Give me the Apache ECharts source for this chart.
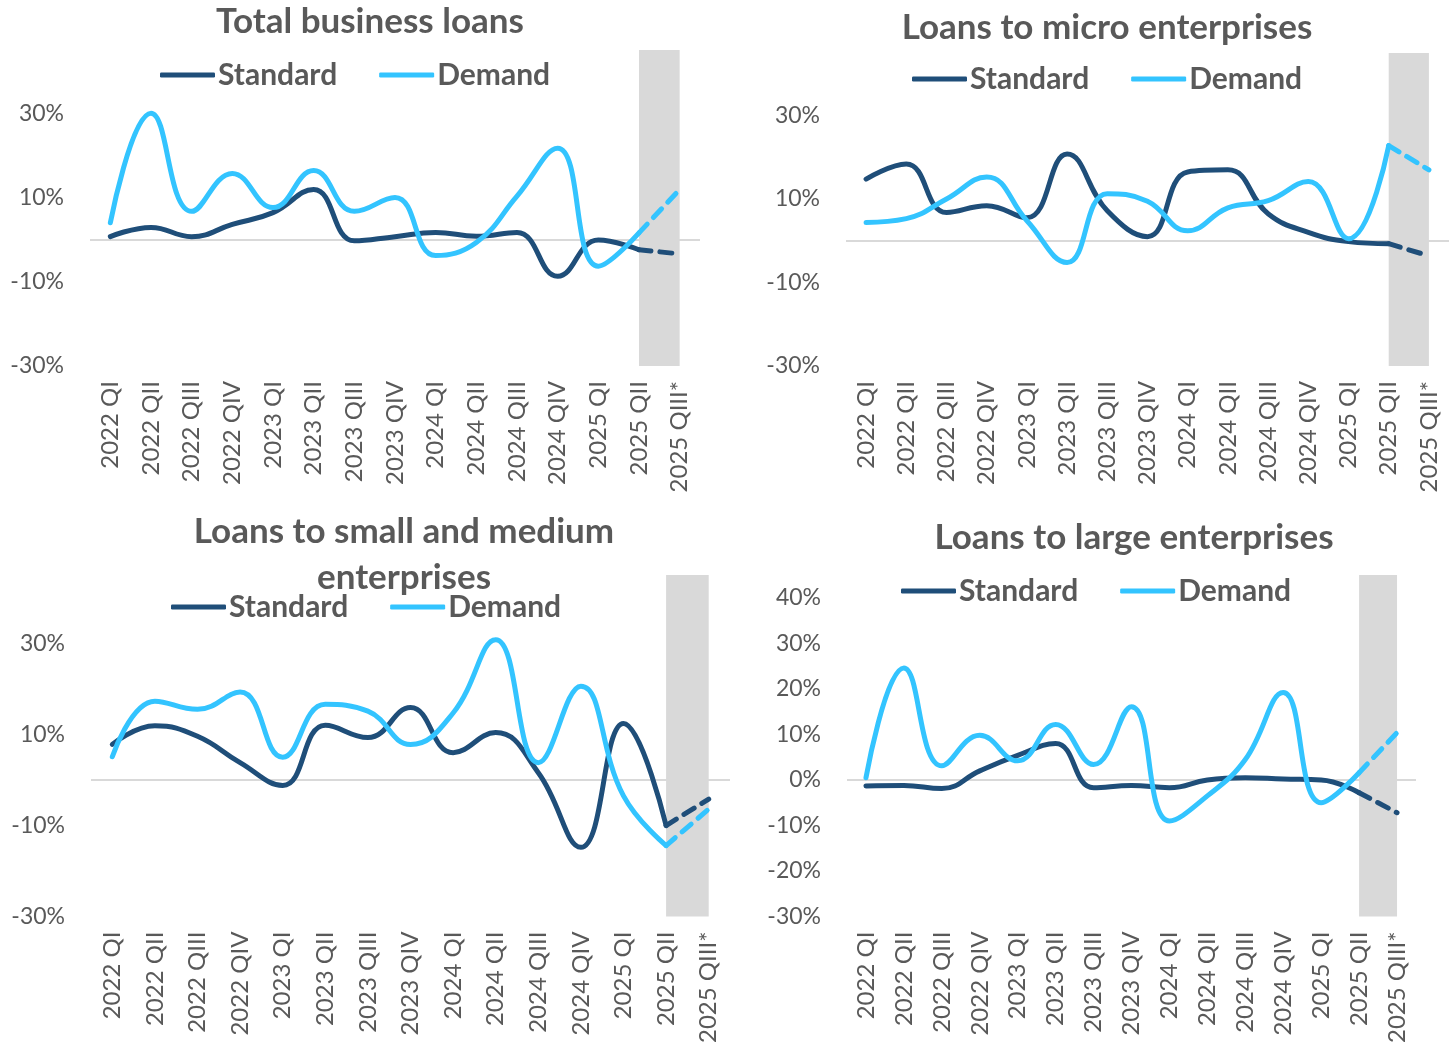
<!DOCTYPE html>
<html><head><meta charset="utf-8">
<script src="https://cdn.jsdelivr.net/npm/echarts@6/dist/echarts.min.js"></script>
<style>html,body{margin:0;padding:0;background:#fff}#c{width:1453px;height:1046px}</style>
</head><body><div id="c"></div>
<script>
// ---- data ----
const categories = ['2022 QI','2022 QII','2022 QIII','2022 QIV','2023 QI','2023 QII','2023 QIII','2023 QIV','2024 QI','2024 QII','2024 QIII','2024 QIV','2025 QI','2025 QII','2025 QIII*'];
const seriesNames = ['Standard','Demand'];
const titles = ['Total business loans','Loans to micro enterprises','Loans to small and medium\nenterprises','Loans to large enterprises'];

const totalStandard = [0.7, 2.9, 0.7, 3.6, 6.4, 11.9, -0.3, 0.7, 1.7, 0.8, 1.7, -8.7, -0.1, -2.4, -3.4];
const totalDemand   = [4.0, 30.0, 6.7, 15.7, 7.6, 16.4, 6.7, 10.0, -3.8, -0.7, 10.3, 21.7, -6.3, 1.6, 11.9];

const microStandard = [14.8, 18.4, 6.8, 8.4, 5.5, 20.8, 7.2, 1.0, 16.5, 17.0, 6.5, 2.0, -0.2, -0.7, -3.6];
const microDemand   = [4.4, 5.3, 10.0, 15.3, 4.8, -5.2, 11.3, 9.5, 2.4, 7.9, 9.6, 14.2, 0.5, 22.8, 17.0];

const smeStandard = [7.8, 11.9, 9.6, 3.8, -1.2, 12.0, 9.3, 15.9, 6.0, 10.4, 1.6, -14.8, 12.4, -10.0, -4.2];
const smeDemand   = [5.1, 17.3, 15.5, 19.3, 5.0, 16.6, 15.1, 7.8, 14.7, 30.8, 3.8, 20.6, -3.5, -14.4, -6.4];

const largeStandard = [-1.3, -1.2, -1.9, 2.0, 5.4, 8.0, -1.7, -1.2, -1.7, 0.0, 0.5, 0.2, 0.0, -2.8, -7.2];
const largeDemand   = [0.5, 24.6, 3.1, 9.8, 4.2, 12.2, 3.4, 16.1, -9.0, -3.5, 4.5, 19.2, -5.0, 1.6, 10.4];

const yMin = -30, yMax = 45;
const yIntervals = [20, 20, 20, 10];

// ---- styling / layout ----
const DARK = '#1f4e79', LIGHT = '#33c4ff', GREY_TXT = '#595959', BOX = '#d9d9d9';
const FONT = 'Lato, "Open Sans", sans-serif';
const panels = [
  {std: totalStandard, dem: totalDemand, grid:{left:90, top:50, width:610, height:316}, title:{x:370, y:-1}, legend:{x:160, y:60}},
  {std: microStandard, dem: microDemand, grid:{left:846, top:53, width:603, height:313}, title:{x:1107, y:5}, legend:{x:912, y:64}},
  {std: smeStandard, dem: smeDemand, grid:{left:91, top:575, width:639, height:342}, title:{x:404, y:509}, legend:{x:171, y:592}},
  {std: largeStandard, dem: largeDemand, grid:{left:847, top:575, width:569, height:342}, title:{x:1134, y:515}, legend:{x:901, y:576}}
];

const grid = [], xAxis = [], yAxis = [], title = [], legend = [], series = [];
const last = categories.length - 1;

panels.forEach((p, i) => {
  grid.push(Object.assign({containLabel:false}, p.grid));
  title.push({
    text: titles[i], left: p.title.x, top: p.title.y, textAlign: 'center', padding: 0,
    textStyle: {fontFamily: FONT, fontWeight: 'bold', fontSize: 35, color: GREY_TXT, lineHeight: 46}
  });
  legend.push({
    data: seriesNames, left: p.legend.x, top: p.legend.y, orient: 'horizontal', padding: 0,
    icon: 'roundRect', itemWidth: 55, itemHeight: 5, itemGap: 42,
    textStyle: {fontFamily: FONT, fontWeight: 'bold', fontSize: 30, color: GREY_TXT, padding: [0,0,0,-2]},
    selectedMode: false
  });
  xAxis.push({
    type: 'category', gridIndex: i, data: categories, boundaryGap: true,
    axisLine: {show: false}, axisTick: {show: false},
    axisLabel: {rotate: 90, margin: 15, fontFamily: FONT, fontSize: 24, color: GREY_TXT, interval: 0}
  });
  yAxis.push({
    type: 'value', gridIndex: i, min: yMin, max: yMax, interval: yIntervals[i],
    splitLine: {show: false}, axisLine: {show: false}, axisTick: {show: false},
    axisLabel: {showMaxLabel: false, margin: 26, formatter: '{value}%', fontFamily: FONT, fontSize: 23, color: GREY_TXT}
  });
  const solid = arr => arr.map((v, k) => (k < last ? v : null));
  const dashed = arr => arr.map((v, k) => (k >= last - 1 ? v : null));
  const base = {type: 'line', xAxisIndex: i, yAxisIndex: i, symbol: 'none', smooth: 0.45, z: 3};
  series.push(Object.assign({}, base, {
    name: 'Standard', data: solid(p.std),
    lineStyle: {color: DARK, width: 5, cap: 'round'}, itemStyle: {color: DARK},
    markArea: {silent: true, z: 1, itemStyle: {color: BOX}, data: [[{xAxis: categories[last - 1]}, {xAxis: categories[last]}]]},
    markLine: {silent: true, z: 1, symbol: ['none','none'], label: {show: false},
      lineStyle: {color: BOX, width: 2, type: 'solid'}, data: [{yAxis: 0}]}
  }));
  series.push(Object.assign({}, base, {
    name: 'Demand', data: solid(p.dem),
    lineStyle: {color: LIGHT, width: 5, cap: 'round'}, itemStyle: {color: LIGHT}
  }));
  series.push(Object.assign({}, base, {
    name: 'Standard forecast', data: dashed(p.std), smooth: false,
    lineStyle: {color: DARK, width: 5, type: [12, 9], cap: 'round'}, itemStyle: {color: DARK}
  }));
  series.push(Object.assign({}, base, {
    name: 'Demand forecast', data: dashed(p.dem), smooth: false,
    lineStyle: {color: LIGHT, width: 5, type: [12, 9], cap: 'round'}, itemStyle: {color: LIGHT}
  }));
});

const chart = echarts.init(document.getElementById('c'), null, {renderer: 'canvas'});
chart.setOption({
  backgroundColor: '#ffffff', animation: false,
  title, legend, grid, xAxis, yAxis, series
});
</script>
</body></html>
